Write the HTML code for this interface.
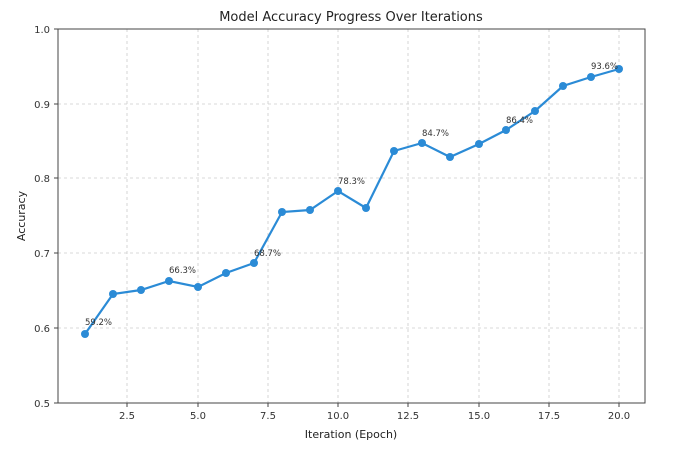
<!DOCTYPE html>
<html><head><meta charset="utf-8"><style>html,body{margin:0;padding:0;background:#fff}</style></head>
<body>
<svg width="674" height="450" xmlns="http://www.w3.org/2000/svg" font-family="'DejaVu Sans','Liberation Sans',sans-serif">
<rect width="674" height="450" fill="#fff"/>
<text x="351" y="21" font-size="13" text-anchor="middle" fill="#222">Model Accuracy Progress Over Iterations</text>
<g stroke="#ccc" stroke-dasharray="3,3" stroke-width="0.8">
<line x1="127" y1="29" x2="127" y2="403"/><line x1="198" y1="29" x2="198" y2="403"/><line x1="338" y1="29" x2="338" y2="403"/><line x1="268" y1="29" x2="268" y2="403"/><line x1="408" y1="29" x2="408" y2="403"/><line x1="479" y1="29" x2="479" y2="403"/><line x1="549" y1="29" x2="549" y2="403"/><line x1="619" y1="29" x2="619" y2="403"/>
<line x1="58" y1="104" x2="645" y2="104"/><line x1="58" y1="178" x2="645" y2="178"/><line x1="58" y1="253" x2="645" y2="253"/><line x1="58" y1="328" x2="645" y2="328"/>
</g>
<rect x="58" y="29" width="587" height="374" fill="none" stroke="#444" stroke-width="1"/>
<g font-size="10" fill="#333" text-anchor="end">
<text x="50" y="33">1.0</text><text x="50" y="108">0.9</text><text x="50" y="182">0.8</text><text x="50" y="257">0.7</text><text x="50" y="332">0.6</text><text x="50" y="407">0.5</text>
</g>
<g stroke="#444"><line x1="54" y1="29" x2="58" y2="29"/><line x1="54" y1="104" x2="58" y2="104"/><line x1="54" y1="178" x2="58" y2="178"/><line x1="54" y1="253" x2="58" y2="253"/><line x1="54" y1="328" x2="58" y2="328"/><line x1="54" y1="403" x2="58" y2="403"/>
<line x1="127" y1="403" x2="127" y2="407"/><line x1="198" y1="403" x2="198" y2="407"/><line x1="268" y1="403" x2="268" y2="407"/><line x1="338" y1="403" x2="338" y2="407"/><line x1="408" y1="403" x2="408" y2="407"/><line x1="479" y1="403" x2="479" y2="407"/><line x1="549" y1="403" x2="549" y2="407"/><line x1="619" y1="403" x2="619" y2="407"/></g>
<g font-size="10" fill="#333" text-anchor="middle">
<text x="127" y="419">2.5</text><text x="198" y="419">5.0</text><text x="268" y="419">7.5</text><text x="338" y="419">10.0</text><text x="408" y="419">12.5</text><text x="479" y="419">15.0</text><text x="549" y="419">17.5</text><text x="619" y="419">20.0</text>
</g>
<text x="351" y="438" font-size="11" text-anchor="middle" fill="#222">Iteration (Epoch)</text>
<text transform="translate(25,216) rotate(-90)" font-size="11" text-anchor="middle" fill="#222">Accuracy</text>
<polyline fill="none" stroke="#2b8bd6" stroke-width="2.2" points="85,334 113,294 141,290 169,281 198,287 226,273 254,263 282,212 310,210 338,191 366,208 394,151 422,143 450,157 479,144 506,130 535,111 563,86 591,77 619,69"/>
<g fill="#2b8bd6">
<circle cx="85" cy="334" r="4"/><circle cx="113" cy="294" r="4"/><circle cx="141" cy="290" r="4"/><circle cx="169" cy="281" r="4"/><circle cx="198" cy="287" r="4"/><circle cx="226" cy="273" r="4"/><circle cx="254" cy="263" r="4"/><circle cx="282" cy="212" r="4"/><circle cx="310" cy="210" r="4"/><circle cx="338" cy="191" r="4"/><circle cx="366" cy="208" r="4"/><circle cx="394" cy="151" r="4"/><circle cx="422" cy="143" r="4"/><circle cx="450" cy="157" r="4"/><circle cx="479" cy="144" r="4"/><circle cx="506" cy="130" r="4"/><circle cx="535" cy="111" r="4"/><circle cx="563" cy="86" r="4"/><circle cx="591" cy="77" r="4"/><circle cx="619" cy="69" r="4"/>
</g>
<g font-size="8.5" fill="#333">
<text x="85" y="325">59.2%</text><text x="169" y="273">66.3%</text><text x="254" y="256">68.7%</text><text x="338" y="184">78.3%</text><text x="422" y="136">84.7%</text><text x="506" y="123">86.4%</text><text x="591" y="69">93.6%</text>
</g>
</svg>
</body></html>
